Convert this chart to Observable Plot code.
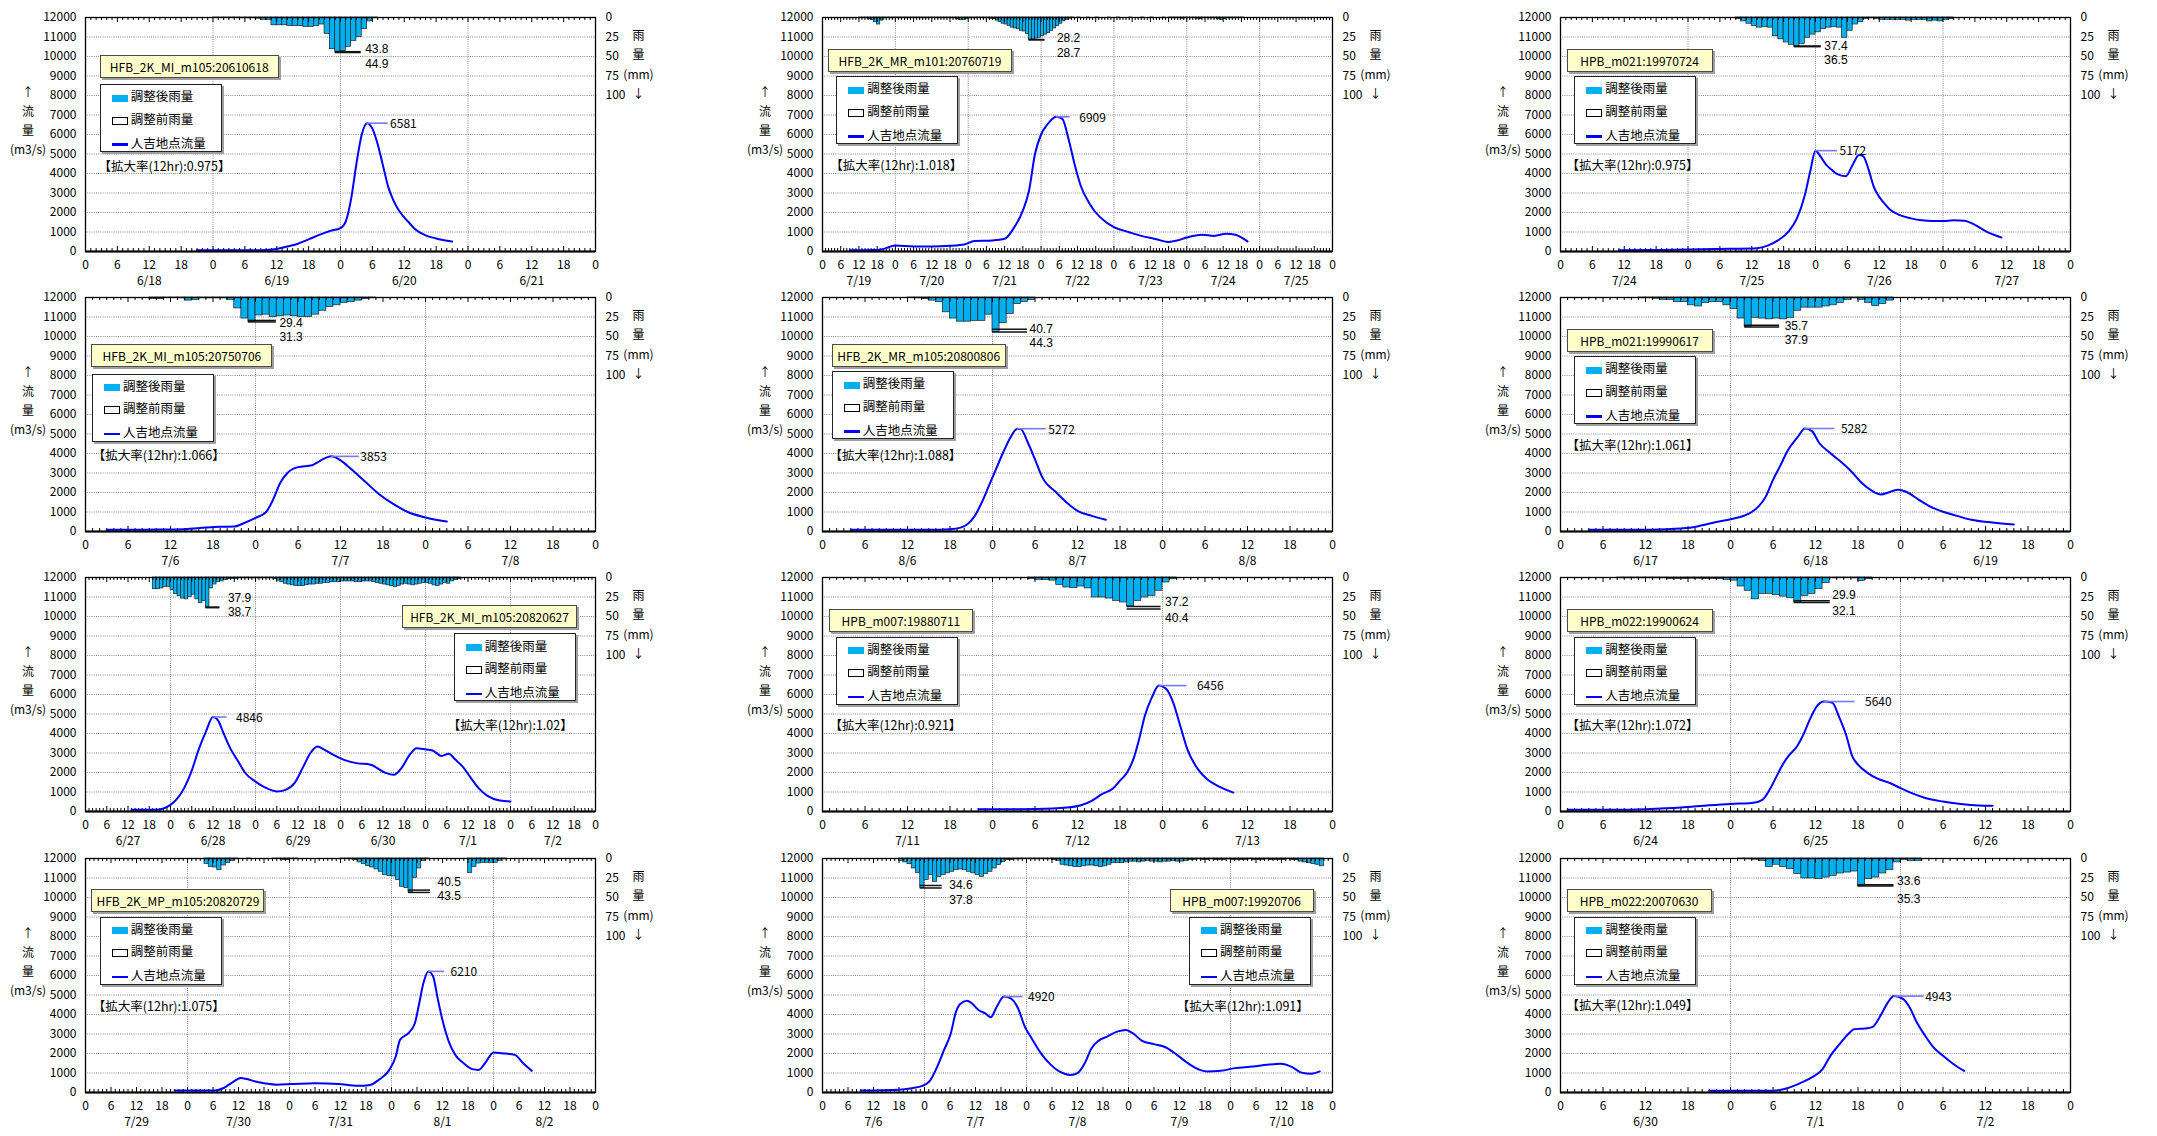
<!DOCTYPE html>
<html><head><meta charset="utf-8">
<script src="https://cdn.jsdelivr.net/npm/d3@7"></script>
<script src="https://cdn.jsdelivr.net/npm/@observablehq/plot@0.6"></script>
<style>
body{margin:0;background:#fff;}
#root{position:relative;width:2157px;height:1136px;overflow:hidden;background:#fff;font-family:"Noto Sans CJK JP","Noto Sans",sans-serif;color:#000;}
.panel{position:absolute;width:737px;height:300px;}
.panel svg{position:absolute;left:0;top:0;}
.lbl{position:absolute;height:21px;background:#ffffcc;border:1px solid #4a4a4a;box-shadow:2px 2px 0 #a0a0a0;font-size:12px;line-height:21px;text-align:center;white-space:nowrap;}
.leg{position:absolute;width:120px;height:66px;background:#fff;border:1.5px solid #222;box-shadow:2px 2px 0 #a0a0a0;font-size:12.5px;}
.leg .row{position:absolute;left:11px;height:18px;line-height:18px;white-space:nowrap;}
.sw{display:inline-block;width:16px;vertical-align:middle;margin-right:3px;box-sizing:border-box;}
.sw1{height:7px;background:#00b0f0;}
.sw2{height:8px;border:1.2px solid #000;background:#fff;}
.sw3{height:2.5px;background:#0000ff;}
.rat{position:absolute;font-size:12.5px;white-space:nowrap;}
.ttl{position:absolute;font-size:12px;white-space:nowrap;transform:translate(-50%,-50%);}
</style>
</head><body>
<div id="root"></div>
<script>
// ---------- shared labels ----------
const flowTicks = [0,1000,2000,3000,4000,5000,6000,7000,8000,9000,10000,11000,12000];
const rainTicks = [0,25,50,75,100];
const rainTitle = ["雨","量","(mm)","↓"];
const flowTitle = ["↑","流","量","(m3/s)"];
const legendLabels = ["調整後雨量","調整前雨量","人吉地点流量"];

// ---------- panel 1 ----------
const p1Name = "HFB_2K_MI_m105:20610618";
const p1Ratio = "【拡大率(12hr):0.975】";
const p1Dates = ["6/18","6/19","6/20","6/21"];
const p1Hours = [21,30,34,36,38,40,42,44,46,48,49,50,51,52,53,54,55,56,57,58,59,60,61,62,64,66,69];
const p1Flow = [60,60,80,130,260,400,620,850,1050,1200,1550,2700,4500,6000,6581,6300,5500,4400,3300,2600,2100,1750,1450,1150,830,670,510];
const p1RainStart = 24;
const p1Rain = [0.5,0.8,0.8,0.8,0.8,1,1,1,1.5,3,3,10,10,10,11,11,11,12,12,11,9,21,40.7,43.8,43,37.7,30,25,15,5,1];
const p1RainMax = ["43.8","44.9"];

// ---------- panel 2 ----------
const p2Name = "HFB_2K_MR_m101:20760719";
const p2Ratio = "【拡大率(12hr):1.018】";
const p2Dates = ["7/19","7/20","7/21","7/22","7/23","7/24","7/25"];
const p2Hours = [9,15,19,24,30,36,42,47,50,56,60,63,66,68,70,72,74,77,79,81,83,85,88,90,93,96,101,105,110,114,117,120,125,129,133,136,140];
const p2Flow = [60,70,90,310,260,260,290,370,540,570,650,1200,2100,3100,5000,6000,6500,6909,6800,5800,4500,3400,2450,2000,1550,1250,990,800,630,490,570,720,860,800,910,860,520];
const p2RainStart = 12;
const p2Rain = [1,1,1,2,3,6,9,4,1,
 0.5,0.5,1,0.5,0.5,0.5,1,1,0.5,0.5,0.5,0.5,1,1,0.5,0.5,0.5,1,1,1,0.5,1,1,
 2,3,3,2,
 1,1,1,0.5,0.5,1,1,1.5,2,
 4,6,8,9,11,13,14,15,17,18,21,28.2,28,27,26,24,22,20,17,14,11,8,5,3,1.5,
 0.5,0,0.5,0,0,0.5,0,0,0.5,0,0,0,0.5,0,0,0.5,0,0,0,0.5,0,0,0,0.5,0,0,0.5,0,0,0,0.5,0,0.5,
 1,1,1,1.5,1,1,1,1,1.5,2,1,1,1,1,1,2,3,2,1,1,1,0.5,0.5,0.5];
const p2RainMax = ["28.2","28.7"];

// ---------- panel 3 ----------
const p3Name = "HPB_m021:19970724";
const p3Ratio = "【拡大率(12hr):0.975】";
const p3Dates = ["7/24","7/25","7/26","7/27"];
const p3Hours = [11,18,24,32,37,39,41,43,44.5,46,47,48,49,50,51,52,53.7,55,56.2,57,58,59,60,61,62,64,66,68,70,72,74,76,78,80,83];
const p3Flow = [60,80,100,140,170,300,580,1050,1700,2900,4100,5172,4850,4450,4200,3980,3860,4450,4950,4880,4200,3300,2800,2450,2150,1850,1700,1600,1560,1560,1600,1580,1370,1050,720];
const p3RainStart = 33;
const p3Rain = [2,5,8,11,13,12,13,24,28,32,35,37.4,34,26,22,19,15,13,12,13,26,17,9,6,2,1,2,3,3,3,3,3,4,3,3,3,5,4,5,3,2];
const p3RainMax = ["37.4","36.5"];

// ---------- panel 4 ----------
const p4Name = "HFB_2K_MI_m105:20750706";
const p4Ratio = "【拡大率(12hr):1.066】";
const p4Dates = ["7/6","7/7","7/8"];
const p4Hours = [3,10,14,17,19,21,22.5,24,25.5,26.5,27.5,28.5,30,32,33,34.7,36,37.5,39.5,41.5,43.5,45.5,48,51];
const p4Flow = [85,100,120,200,240,256,450,700,1000,1650,2500,3000,3300,3400,3600,3853,3650,3200,2550,1900,1400,1000,720,510];
const p4RainStart = 9;
const p4Rain = [2,2,0.5,0.5,1,4,3,1,1,1,1,3,14,27,31.3,23,22,25,24,23,24,25,25,22,17,12,10,7,6,4,2,1];
const p4RainMax = ["29.4","31.3"];

// ---------- panel 5 ----------
const p5Name = "HFB_2K_MR_m105:20800806";
const p5Ratio = "【拡大率(12hr):1.088】";
const p5Dates = ["8/6","8/7","8/8"];
const p5Hours = [4,15,18,19.5,20.5,21.5,22.5,23.5,24.5,25.5,26.5,27.5,28,29,30,31,33,34.5,36,38,40];
const p5Flow = [85,90,120,200,380,800,1500,2350,3200,4050,4800,5272,5250,4550,3700,2800,2000,1480,1060,800,600];
const p5RainStart = 12;
const p5Rain = [0.5,1,2,4,6,19,27,31,31,30,30,22,44.3,33,21,8.5,5.6,3];
const p5RainMax = ["40.7","44.3"];

// ---------- panel 6 ----------
const p6Name = "HPB_m021:19990617";
const p6Ratio = "【拡大率(12hr):1.061】";
const p6Dates = ["6/17","6/18","6/19"];
const p6Hours = [4,10,15,17,18.5,20,22,24,26,27,28,29,30,31,32,33.5,34.5,35.5,36.5,38,39.5,41,42.5,44,45.2,46.5,47.7,49,50.5,52,54,56,58,61,64];
const p6Flow = [85,90,120,155,205,320,490,630,820,1000,1300,1800,2650,3350,4100,4850,5282,5150,4550,4050,3600,3100,2500,2080,1900,2030,2140,2000,1650,1320,1010,800,600,460,360];
const p6RainStart = 11;
const p6Rain = [1,1,1.5,3,3,6,6,10,11.5,7,6,6,10,15,27,37.9,26,27,28,27,28,26,17,13,13,13,11.5,10,7,3,1,3,7,11,8.5,4];
const p6RainMax = ["35.7","37.9"];

// ---------- panel 7 ----------
const p7Name = "HFB_2K_MI_m105:20820627";
const p7Ratio = "【拡大率(12hr):1.02】";
const p7Dates = ["6/27","6/28","6/29","6/30","7/1","7/2"];
const p7Hours = [13,20,24,26,28,30,32,34,36,37.5,39,41,43,45,48,50.5,54,56.5,59,61.5,63.5,65.5,67.5,70,73,76.5,80.5,84.5,87,89.5,91.5,93.5,95.5,98,100.5,102.5,104.5,106.5,108.5,111,113.5,117,120];
const p7Flow = [85,90,340,680,1250,2100,3200,4100,4846,4650,4000,3200,2600,2000,1530,1250,1030,1110,1450,2300,3000,3330,3160,2900,2650,2480,2400,2000,1880,2300,2900,3250,3200,3130,2850,2960,2650,2300,1800,1200,800,560,510];
const p7RainStart = 19;
const p7Rain = [15,15,14,12,12,16,21,24,27,28,25,22,28,33,30,38.7,
 14,9,6,5,3,2,2,2,1,1, 1,1,1,1,1,1,1,1,2,4, 6,8,9,10,11,11,11,10,9,9, 8,8,7,7,6,6,6,5,5,5,
 5,6,6,5,5,5,6,7,8,9, 10,11,12,11,9,8,9,10,9,8, 7,7,8,10,11,9,7,8,5,3, 2];
const p7RainMax = ["37.9","38.7"];

// ---------- panel 8 ----------
const p8Name = "HPB_m007:19880711";
const p8Ratio = "【拡大率(12hr):0.921】";
const p8Dates = ["7/11","7/12","7/13"];
const p8Hours = [22,28,32.5,34.5,36.5,38,39.5,41,42,43,44,44.7,45.5,46.5,47.5,48.5,49.5,50.5,51.5,53,54.3,56,58];
const p8Flow = [120,120,150,200,320,550,900,1180,1580,2000,2800,3700,4900,5850,6456,6300,5600,4400,3200,2170,1650,1280,970];
const p8RainStart = 29;
const p8Rain = [2,3,3.4,4,9.4,12.8,13.7,11.5,14,25.6,25.6,27,30,32,37.2,30,25.6,23.5,17,6.4,2];
const p8RainMax = ["37.2","40.4"];

// ---------- panel 9 ----------
const p9Name = "HPB_m022:19900624";
const p9Ratio = "【拡大率(12hr):1.072】";
const p9Dates = ["6/24","6/25","6/26"];
const p9Hours = [1,8,12,17,21,24,27,28.5,29.5,30.5,31.2,32.2,33.4,34.3,35.3,36.2,37.2,38.4,39.3,40.3,41.2,42,43.4,44.6,46.5,48,49.6,51.5,54,56.5,59,61];
const p9Flow = [86,90,120,200,320,390,430,600,1100,1800,2300,2850,3350,3950,4800,5400,5640,5570,4880,3950,2830,2400,1970,1710,1460,1200,940,690,510,390,310,290];
const p9RainStart = 8;
const p9Rain = [1,1,1,1,1,1,1,2,2,2,1.5,1.5,2,2,2,3,4,11.5,17,28,21,21,22.7,24.4,26.6,32.1,23.5,21,15,7.3,1,0.5,0.5,1,4.3,2];
const p9RainMax = ["29.9","32.1"];

// ---------- panel 10 ----------
const p10Name = "HFB_2K_MP_m105:20820729";
const p10Ratio = "【拡大率(12hr):1.075】";
const p10Dates = ["7/29","7/30","7/31","8/1","8/2"];
const p10Hours = [21,30.5,32.5,34.5,36.5,38,40,42,45,48.5,54,59.5,64,67,69,71.5,73,74,76,77.5,78.5,79.5,80.7,81.8,82.8,84,85.5,87,89,91,92.5,94,96,98,101,103,105];
const p10Flow = [100,100,230,510,740,690,560,480,400,430,480,440,340,390,650,1160,1850,2700,3050,3550,4550,5600,6210,5950,4900,3700,2600,1930,1500,1200,1160,1500,2050,2010,1930,1500,1110];
const p10RainStart = 28;
const p10Rain = [7,10.7,11.5,15,9,6,3,1, 0,0,0.5,0,0,0,0,0,0.5,0.5, 2,2,1, 0.5,0,0,0,0,0,0,0,0,0,0,0.5,0.5,1,
 2,5,7,9.8,11.5,14,17,21,22.6,23,27.7,36.2,38,43.5,25,12.8,3,1, 0,0,0,0,0,0,0,0,0, 18.5,10.7,6.4,5.5,5.5,5.5,5.5,3,1];
const p10RainMax = ["40.5","43.5"];

// ---------- panel 11 ----------
const p11Name = "HPB_m007:19920706";
const p11Ratio = "【拡大率(12hr):1.091】";
const p11Dates = ["7/6","7/7","7/8","7/9","7/10"];
const p11Hours = [9,18,21,23.5,25.3,27,28.6,30.2,31.3,32.4,34,35.1,36.7,38.3,39.6,41,42.7,44.3,46,47.6,49.2,51.4,53.5,55.7,58.4,60,61.7,63.3,65,67,69.3,71.4,73,75.2,78,80.7,83.4,86,88.8,90.5,93.7,97,101.3,104.6,107.8,110.5,112.7,115,117];
const p11Flow = [100,140,220,340,610,1330,2180,3040,4060,4540,4710,4580,4230,4060,3860,4400,4920,4830,4320,3380,2780,2010,1470,1080,900,990,1500,2270,2660,2870,3120,3210,3040,2650,2480,2320,1930,1500,1160,1080,1110,1250,1330,1420,1470,1300,1020,960,1080];
const p11RainStart = 18;
const p11Rain = [3,5,7.3,12.8,18.4,37.8,27.7,21.3,29.9,23.5,21,19,17,15,14,15,17,19,21,23.5,20,17,12.8,8.5,4.3,2,2,
 1,1,0.5,0.5,1,1,0.5,1,1,2,
 3,8,9,10,11,11,10,9,9,10,11,10,8,6,6,6,5,
 4,4,5,4,3,4,4,5,4,4,3,4,4,3,
 2,2,1,2,2,1,2,2,2,1,2,2,2,2,1,2,2,2,1,2,2,2,2,1,2,2,
 4,5,6,7,8,10];
const p11RainMax = ["34.6","37.8"];

// ---------- panel 12 ----------
const p12Name = "HPB_m022:20070630";
const p12Ratio = "【拡大率(12hr):1.049】";
const p12Dates = ["6/30","7/1","7/2"];
const p12Hours = [21,30,32,34,35.6,37,38.1,39.4,40.6,41.5,43,44,45.3,46.2,47.1,48.4,49.3,50.2,51.5,52.7,54,55.5,57];
const p12Flow = [85,90,220,510,800,1200,1880,2480,2990,3250,3280,3350,4020,4610,4943,4790,4360,3670,2900,2300,1880,1450,1110];
const p12RainStart = 25;
const p12Rain = [0.5,1,1.5,3,10.7,8,10.7,13.7,20,25.6,25.6,26.5,24.4,22.2,19.2,18,16.7,35.3,26.5,24.4,19.2,15,5,1.7,3,3];
const p12RainMax = ["33.6","35.3"];

const panels = [
 {name:p1Name, ratio:p1Ratio, dates:p1Dates, hours:p1Hours, flow:p1Flow, rainStart:p1RainStart, rain:p1Rain, rainMax:p1RainMax},
 {name:p2Name, ratio:p2Ratio, dates:p2Dates, hours:p2Hours, flow:p2Flow, rainStart:p2RainStart, rain:p2Rain, rainMax:p2RainMax},
 {name:p3Name, ratio:p3Ratio, dates:p3Dates, hours:p3Hours, flow:p3Flow, rainStart:p3RainStart, rain:p3Rain, rainMax:p3RainMax},
 {name:p4Name, ratio:p4Ratio, dates:p4Dates, hours:p4Hours, flow:p4Flow, rainStart:p4RainStart, rain:p4Rain, rainMax:p4RainMax},
 {name:p5Name, ratio:p5Ratio, dates:p5Dates, hours:p5Hours, flow:p5Flow, rainStart:p5RainStart, rain:p5Rain, rainMax:p5RainMax},
 {name:p6Name, ratio:p6Ratio, dates:p6Dates, hours:p6Hours, flow:p6Flow, rainStart:p6RainStart, rain:p6Rain, rainMax:p6RainMax},
 {name:p7Name, ratio:p7Ratio, dates:p7Dates, hours:p7Hours, flow:p7Flow, rainStart:p7RainStart, rain:p7Rain, rainMax:p7RainMax},
 {name:p8Name, ratio:p8Ratio, dates:p8Dates, hours:p8Hours, flow:p8Flow, rainStart:p8RainStart, rain:p8Rain, rainMax:p8RainMax},
 {name:p9Name, ratio:p9Ratio, dates:p9Dates, hours:p9Hours, flow:p9Flow, rainStart:p9RainStart, rain:p9Rain, rainMax:p9RainMax},
 {name:p10Name, ratio:p10Ratio, dates:p10Dates, hours:p10Hours, flow:p10Flow, rainStart:p10RainStart, rain:p10Rain, rainMax:p10RainMax},
 {name:p11Name, ratio:p11Ratio, dates:p11Dates, hours:p11Hours, flow:p11Flow, rainStart:p11RainStart, rain:p11Rain, rainMax:p11RainMax},
 {name:p12Name, ratio:p12Ratio, dates:p12Dates, hours:p12Hours, flow:p12Flow, rainStart:p12RainStart, rain:p12Rain, rainMax:p12RainMax}
];

// ---------- layout (pixel offsets relative to plot area) ----------
const layout = [
 {lbl:[14.7,38.3,179], leg:[14.7,67.3], rat:[13.5,148.3,"start"], fl:[21,23], rl:[26,30,-3,12]},
 {lbl:[6,31.6,184],    leg:[14.3,59.3], rat:[8.3,146.6,"start"],  fl:[14,23], rl:[16,28,-1,13.5]},
 {lbl:[6.6,31.6,146],  leg:[14.2,59.3], rat:[6.6,146.6,"start"],  fl:[22,24], rl:[27,30,-1,13.5]},
 {lbl:[6.4,46.7,181],  leg:[6.9,76.7],  rat:[7.8,157.3,"start"],  fl:[28,29], rl:[28,31,3,16.5]},
 {lbl:[9.7,46.7,174],  leg:[9.7,74.3],  rat:[7.4,157.3,"start"],  fl:[29,31], rl:[35,37,0,14]},
 {lbl:[6.6,31.7,146],  leg:[14.2,59.3], rat:[6.6,147.3,"start"],  fl:[30,36], rl:[35,40,0.5,14.5]},
 {lbl:[317,28.4,175],  leg:[368.7,56.4],rat:[487.7,147.4,"end"],  fl:[14,23], rl:[14,22,-9,5]},
 {lbl:[6.9,32.4,144],  leg:[14.3,59.7], rat:[7.4,147.4,"start"],  fl:[28,38], rl:[34,38,-4,12]},
 {lbl:[6.6,32.4,146],  leg:[14.2,59.7], rat:[6.6,147.4,"start"],  fl:[31,41], rl:[36,38,-6,10]},
 {lbl:[6.4,31.3,173],  leg:[14.7,58.6], rat:[7.8,147,"start"],    fl:[16,22], rl:[22,29,-7.5,6.5]},
 {lbl:[347.5,31.3,144],leg:[367,58.6],  rat:[486.8,147,"end"],    fl:[19,24], rl:[22,29,0,15]},
 {lbl:[6.6,31,145],    leg:[14.4,58.6], rat:[6.6,146.3,"start"],  fl:[30,31], rl:[36,39,-4,14]}
];

const colLeft = [0, 737, 1475];
const rowTop = [0, 280, 560, 841];
const W = 737, Hs = 300, ML = 85, MR = 142, MT = 17, MB = 49;
const PW = W - ML - MR, PH = Hs - MT - MB;
const FONT = '"Noto Sans CJK JP","Noto Sans",sans-serif';
const NUMFONT = '"Liberation Sans","Noto Sans",sans-serif';

const root = document.getElementById("root");

panels.forEach((P, k) => {
  const L = layout[k];
  const col = k % 3, row = Math.floor(k / 3);
  const H = P.dates.length * 24;
  const uPerPx = 12000 / PH, hPerPx = H / PW;
  const rainY = r => 12000 - 40 * r;   // secondary axis: 0 mm at top, 300 mm at bottom
  const flow = P.hours.map((h, i) => ({h, v: P.flow[i]}));
  const rain = P.rain.map((r, i) => ({h: P.rainStart + i, r})).filter(d => d.r > 0);
  const peak = d3.greatest(flow, d => d.v);
  const rmax = d3.greatest(rain, d => d.r);
  const hourTicks = d3.range(0, H + 1, 6);
  const minor = d3.range(1, H);
  const yFirst = rainY(+P.rainMax[0]);

  const chart = Plot.plot({
    width: W, height: Hs,
    marginLeft: ML, marginRight: MR, marginTop: MT, marginBottom: MB,
    style: {background: "transparent", overflow: "visible", fontFamily: FONT, fontSize: "12px", color: "#000"},
    x: {domain: [0, H], axis: null},
    y: {domain: [0, 12000], axis: null},
    marks: [
      Plot.ruleY(flowTicks.filter(d => d > 0 && d < 12000), {stroke: "#8a8a8a", strokeDasharray: "1,1.2", strokeWidth: 1}),
      Plot.ruleX(d3.range(24, H, 24), {stroke: "#8a8a8a", strokeDasharray: "1,1.2", strokeWidth: 1}),
      Plot.rect(rain, {x1: "h", x2: d => d.h + 1, y1: 12000, y2: d => rainY(d.r), fill: "#00b0f0", stroke: "#1e1e1e", strokeWidth: 0.7}),
      Plot.ruleX(minor, {y1: 0, y2: d => (d % 6 === 0 ? 5 : 3) * uPerPx, stroke: "#000", strokeWidth: 1}),
      Plot.ruleX(minor, {y1: d => 12000 - (d % 6 === 0 ? 5 : 3) * uPerPx, y2: 12000, stroke: "#000", strokeWidth: 1}),
      Plot.line(flow, {x: "h", y: "v", stroke: "#0000ff", strokeWidth: 2, curve: "monotone-x"}),
      Plot.frame({stroke: "#000", strokeWidth: 1.3}),
      Plot.ruleY([0], {stroke: "#000", strokeWidth: 2.2}),
      // flow peak annotation
      Plot.ruleY([peak], {y: "v", x1: "h", x2: d => d.h + L.fl[0] * hPerPx, stroke: "#7878ff", strokeWidth: 1.6}),
      Plot.text([peak], {x: "h", y: "v", text: d => String(d.v), dx: L.fl[1], dy: 1, textAnchor: "start", fontSize: 12}),
      // rain max annotation
      Plot.ruleY(P.rainMax, {y: d => rainY(+d), x1: rmax.h, x2: rmax.h + L.rl[0] * hPerPx, stroke: "#111", strokeWidth: 1.5}),
      Plot.text([P.rainMax[0]], {x: rmax.h, y: yFirst, text: d => d, dx: L.rl[1], dy: L.rl[2], textAnchor: "start", fontSize: 12, fontFamily: NUMFONT}),
      Plot.text([P.rainMax[1]], {x: rmax.h, y: yFirst, text: d => d, dx: L.rl[1], dy: L.rl[3], textAnchor: "start", fontSize: 12, fontFamily: NUMFONT}),
      // axes
      Plot.text(flowTicks, {y: d => d, text: d => String(d), frameAnchor: "left", dx: -9, textAnchor: "end", fontSize: 12}),
      Plot.text(rainTicks, {y: d => rainY(d), text: d => String(d), frameAnchor: "right", dx: 10, textAnchor: "start", fontSize: 12}),
      Plot.text(rainTitle, {y: (d, i) => rainY(rainTicks[i + 1]), text: d => d, frameAnchor: "right", dx: 43, dy: (-1), textAnchor: "middle", fontSize: 12}),
      Plot.text(hourTicks, {x: d => d, text: d => String(d % 24), frameAnchor: "bottom", dy: 17, fontSize: 12}),
      Plot.text(P.dates, {x: (d, i) => i * 24 + 12, text: d => d, frameAnchor: "bottom", dy: 33, fontSize: 12})
    ]
  });

  const panel = document.createElement("div");
  panel.className = "panel";
  panel.style.left = colLeft[col] + "px";
  panel.style.top = rowTop[row] + "px";
  panel.appendChild(chart);

  // left axis title
  const ty = [74, 93.3, 111.5, 131];
  flowTitle.forEach((t, i) => {
    const d = document.createElement("div");
    d.className = "ttl";
    d.textContent = t;
    d.style.left = (ML - 57) + "px";
    d.style.top = (MT + ty[i]) + "px";
    panel.appendChild(d);
  });

  // label box
  const lb = document.createElement("div");
  lb.className = "lbl";
  lb.textContent = P.name;
  lb.style.left = (ML + L.lbl[0]) + "px";
  lb.style.top = (MT + L.lbl[1]) + "px";
  lb.style.width = (L.lbl[2] - 2) + "px";
  panel.appendChild(lb);

  // legend
  const lg = document.createElement("div");
  lg.className = "leg";
  lg.style.left = (ML + L.leg[0]) + "px";
  lg.style.top = (MT + L.leg[1]) + "px";
  const rowsTop = [2.2, 24.8, 48.8];
  legendLabels.forEach((t, i) => {
    const r = document.createElement("div");
    r.className = "row";
    r.style.top = rowsTop[i] + "px";
    r.innerHTML = '<span class="sw sw' + (i + 1) + '"></span><span></span>';
    r.lastChild.textContent = t;
    lg.appendChild(r);
  });
  panel.appendChild(lg);

  // ratio text
  const rt = document.createElement("div");
  rt.className = "rat";
  rt.textContent = P.ratio;
  rt.style.left = (ML + L.rat[0]) + "px";
  rt.style.top = (MT + L.rat[1]) + "px";
  rt.style.transform = L.rat[2] === "end" ? "translate(-100%,-50%)" : "translateY(-50%)";
  panel.appendChild(rt);

  root.appendChild(panel);
});
</script>
</body></html>
